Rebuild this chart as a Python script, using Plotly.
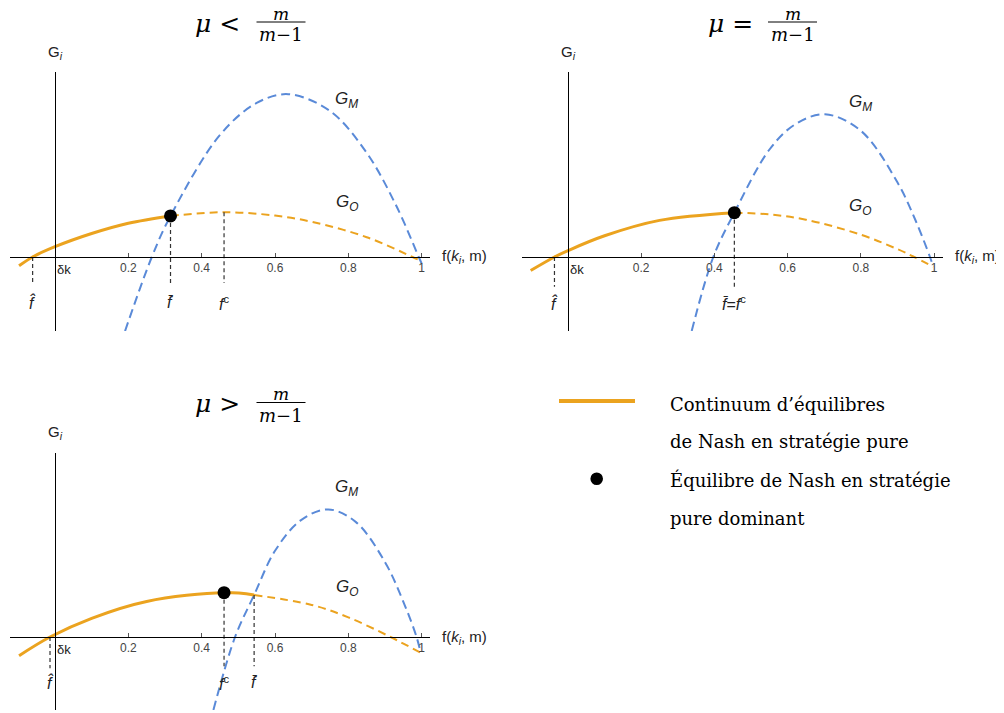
import plotly.graph_objects as go

# the page body adds an 8px margin, so the plot is 8px smaller than the window
OFF = 8
W, H = 1004 - OFF, 713 - OFF

ORANGE = '#EBA31F'
BLUE = '#5A8AD8'

# x tick labels shared by the three panels
tick_vals = [0.2, 0.4, 0.6, 0.8, 1.0]
tick_text = ['0.2', '0.4', '0.6', '0.8', '1']

# ---- panel 1 : mu < m/(m-1)
go1_solid_x = [-0.098, -0.061, 0.0, 0.1, 0.2, 0.315]
go1_solid_y = [-0.024, 0.0, 0.028, 0.064, 0.092, 0.112]
go1_dash_x = [0.315, 0.461, 0.6, 0.7, 0.85, 0.975, 1.0]
go1_dash_y = [0.112, 0.122, 0.113, 0.096, 0.054, 0.0, -0.012]
gm1_x = [0.191, 0.264, 0.315, 0.45, 0.55, 0.636, 0.75, 0.85, 0.93, 0.992, 1.0]
gm1_y = [-0.202, 0.0, 0.112, 0.333, 0.420, 0.444, 0.398, 0.284, 0.141, 0.0, -0.018]
eq1 = (0.315, 0.112)
marks1 = [('<i>f\u0302</i>', -0.061, 0.0, -0.071),
          ('<i>f\u0304</i>', 0.315, 0.112, -0.071),
          ('<i>f</i><sup>c</sup>', 0.461, 0.122, -0.071)]

# ---- panel 2 : mu = m/(m-1)
go2_solid_x = [-0.102, -0.037, 0.0, 0.1, 0.25, 0.4545]
go2_solid_y = [-0.037, 0.0, 0.0175, 0.058, 0.100, 0.121]
go2_dash_x = [0.4545, 0.55, 0.65, 0.8, 0.9, 0.946, 0.998]
go2_dash_y = [0.121, 0.1165, 0.102, 0.061, 0.0216, 0.0, -0.0265]
gm2_x = [0.338, 0.397, 0.4545, 0.55, 0.62, 0.702, 0.8, 0.9, 0.95, 0.989, 0.998]
gm2_y = [-0.202, 0.0, 0.121, 0.293, 0.362, 0.390, 0.345, 0.204, 0.099, 0.0, -0.0265]
eq2 = (0.4545, 0.121)
marks2 = [('<i>f\u0302</i>', -0.037, 0.0, -0.081),
          ('<i>f\u0304</i>=<i>f</i><sup>c</sup>', 0.4545, 0.121, -0.081)]

# ---- panel 3 : mu > m/(m-1)
go3_solid_x = [-0.098, -0.0136, 0.1, 0.25, 0.461, 0.543]
go3_solid_y = [-0.051, 0.0, 0.051, 0.097, 0.121, 0.1145]
go3_dash_x = [0.543, 0.7, 0.8, 0.915, 0.997]
go3_dash_y = [0.1145, 0.0875, 0.0535, 0.0, -0.043]
gm3_x = [0.432, 0.491, 0.543, 0.6, 0.67, 0.745, 0.82, 0.9, 0.95, 0.986, 0.997]
gm3_y = [-0.199, 0.0, 0.1145, 0.235, 0.318, 0.348, 0.314, 0.204, 0.096, 0.0, -0.043]
eq3 = (0.461, 0.121)
marks3 = [('<i>f\u0302</i>', -0.0136, 0.0, -0.085),
          ('<i>f</i><sup>c</sup>', 0.461, 0.121, -0.08),
          ('<i>f\u0304</i>', 0.543, 0.1145, -0.08)]

legend_lines = ['Continuum d\u2019\u00e9quilibres',
                'de Nash en strat\u00e9gie pure',
                '\u00c9quilibre de Nash en strat\u00e9gie',
                'pure dominant']


def px(x):
    return (x - OFF) / W


def py(y):
    return 1 - (y - OFF) / H


fig = go.Figure()

panels = [
    ('x', 'y', go1_solid_x, go1_solid_y, go1_dash_x, go1_dash_y, gm1_x, gm1_y, eq1, marks1),
    ('x2', 'y2', go2_solid_x, go2_solid_y, go2_dash_x, go2_dash_y, gm2_x, gm2_y, eq2, marks2),
    ('x3', 'y3', go3_solid_x, go3_solid_y, go3_dash_x, go3_dash_y, gm3_x, gm3_y, eq3, marks3),
]

SANS = 'Liberation Sans, Arial, sans-serif'
SERIF = 'DejaVu Serif, serif'

annotations = []
label_y = [-0.125, -0.126, -0.125]

for i, (xa, ya, sx, sy, dx, dy, mx, my, eq, marks) in enumerate(panels):
    # G_M (blue dashed)
    fig.add_trace(go.Scatter(x=mx, y=my, mode='lines', xaxis=xa, yaxis=ya,
                             line=dict(color=BLUE, width=2, dash='9px,5px', shape='spline')))
    # G_O dashed part
    fig.add_trace(go.Scatter(x=dx, y=dy, mode='lines', xaxis=xa, yaxis=ya,
                             line=dict(color=ORANGE, width=2, dash='8px,5px', shape='spline')))
    # G_O solid part (continuum of equilibria)
    fig.add_trace(go.Scatter(x=sx, y=sy, mode='lines', xaxis=xa, yaxis=ya,
                             line=dict(color=ORANGE, width=3, shape='spline')))
    # dropped dashed verticals
    for text, fx, top, bottom in marks:
        fig.add_trace(go.Scatter(x=[fx, fx], y=[top, bottom], mode='lines', xaxis=xa, yaxis=ya,
                                 line=dict(color='#333', width=1.2, dash='4px,3px')))
        annotations.append(dict(x=fx, y=label_y[i], xref=xa, yref=ya, text=text, showarrow=False,
                                xanchor='center', yanchor='middle',
                                font=dict(family=SANS, size=16, color='#222')))
    # dominant equilibrium
    fig.add_trace(go.Scatter(x=[eq[0]], y=[eq[1]], mode='markers', xaxis=xa, yaxis=ya,
                             marker=dict(color='black', size=13)))
    # delta k label at origin
    annotations.append(dict(x=0, y=-0.033, xref=xa, yref=ya, text='\u03b4k', showarrow=False,
                            xanchor='left', yanchor='middle',
                            font=dict(family=SANS, size=13, color='#222')))

AX_FONT = dict(family=SANS, size=12, color='#444')


def xaxis(dom, rng, pos):
    return dict(domain=dom, range=rng, anchor='free', position=pos,
                showline=True, linecolor='black', linewidth=1,
                ticks='inside', ticklen=4, tickcolor='#555', tickwidth=1,
                tickvals=tick_vals, ticktext=tick_text, tickfont=AX_FONT,
                showgrid=False, zeroline=False, fixedrange=True)


def yaxis(dom, rng, pos):
    return dict(domain=dom, range=rng, anchor='free', position=pos,
                showline=True, linecolor='black', linewidth=1,
                showticklabels=False, ticks='', showgrid=False, zeroline=False, fixedrange=True)


# panel geometry (pixels in the reference picture)
p1 = dict(x0=55, s=366.7, left=10, right=430, top=72, axis=257, bottom=331)
p2 = dict(x0=568, s=366.0, left=522, right=943, top=72, axis=257, bottom=331)
p3 = dict(x0=55, s=366.7, left=10, right=430, top=452.7, axis=637, bottom=710)

axes = {}
for n, p in zip(['', '2', '3'], [p1, p2, p3]):
    xr = [(p['left'] - p['x0']) / p['s'], (p['right'] - p['x0']) / p['s']]
    yr = [(p['axis'] - p['bottom']) / p['s'], (p['axis'] - p['top']) / p['s']]
    axes['xaxis' + n] = xaxis([px(p['left']), px(p['right'])], xr, py(p['axis']))
    axes['yaxis' + n] = yaxis([py(p['bottom']), py(p['top'])], yr, px(p['x0']))


def note(x, y, text, size, family=SANS, color='#222', xanchor='center'):
    annotations.append(dict(x=px(x), y=py(y), xref='paper', yref='paper', text=text,
                            showarrow=False, xanchor=xanchor, yanchor='middle',
                            font=dict(family=family, size=size, color=color)))


# axis titles, curve names
for p, gm_y, go_y, gx, gi_y in [(p1, 100, 203.3, 346.7, 52.3), (p2, 103.3, 206.7, 860, 52.3),
                                 (p3, 488.3, 588.3, 346.7, 432)]:
    note(p['x0'], gi_y, 'G<sub><i>i</i></sub>', 15)
    note(p['right'] + 10, p['axis'], 'f(<i>k<sub>i</sub></i>, m)', 15, xanchor='left')
    note(gx, gm_y, '<i>G<sub>M</sub></i>', 17)
    note(gx, go_y, '<i>G<sub>O</sub></i>', 17)

# panel titles (mu relation with a stacked fraction)
shapes = []
for rel, rel_x, frac_x, cy in [('&lt;', 217.5, 281, 22), ('=', 730, 792.5, 22), ('&gt;', 217.5, 281, 402.5)]:
    note(rel_x, cy + 1, '<i>\u03bc</i> ' + rel, 25, family=SERIF, color='black')
    note(frac_x, cy - 8, '<i>m</i>', 17, family=SERIF, color='black')
    note(frac_x, cy + 13, '<i>m</i>\u22121', 18, family=SERIF, color='black')
    shapes.append(dict(type='line', xref='paper', yref='paper',
                       x0=px(frac_x - 24.5), x1=px(frac_x + 24.5), y0=py(cy), y1=py(cy),
                       line=dict(color='black', width=1)))

# legend block
shapes.append(dict(type='line', xref='paper', yref='paper', x0=px(559), x1=px(635),
                   y0=py(401), y1=py(401), line=dict(color=ORANGE, width=4)))
shapes.append(dict(type='circle', xref='paper', yref='paper', x0=px(590.4), x1=px(603),
                   y0=py(485), y1=py(472.4), fillcolor='black', line=dict(color='black', width=0)))
for text, ly in zip(legend_lines, [404, 441.7, 480, 518.3]):
    note(667.7, ly, text, 18, family=SERIF, color='black', xanchor='left')

fig.update_layout(
    width=W, height=H,
    margin=dict(l=0, r=0, t=0, b=0),
    paper_bgcolor='white', plot_bgcolor='white',
    showlegend=False,
    annotations=annotations,
    shapes=shapes,
    **axes
)

fig.write_html("out.html")
